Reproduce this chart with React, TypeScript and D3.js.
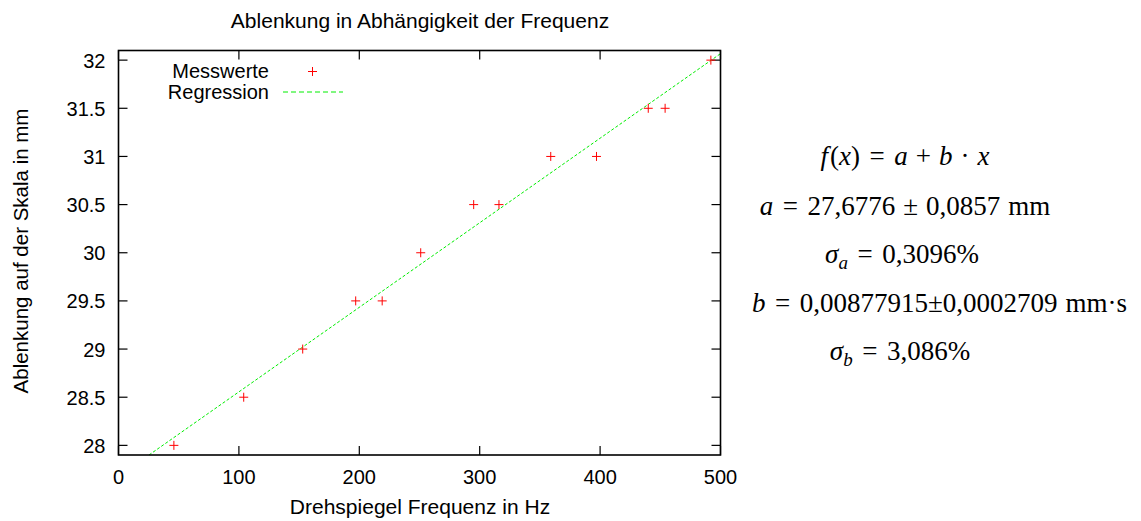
import React from 'react';
import * as d3 from 'd3';

// Messwerte: Drehspiegel-Frequenz (Hz) und Ablenkung (mm)
const frequency = [46, 104, 153, 197, 219, 251, 295, 316, 359, 397, 440, 454, 492];
const deflection = [28, 28.5, 29, 29.5, 29.5, 30, 30.5, 30.5, 31, 31, 31.5, 31.5, 32];

// Regressionskoeffizienten f(x) = a + b*x
const fitA = 27.6776;
const fitB = 0.00877915;

const xTicks = [0, 100, 200, 300, 400, 500];
const yTicks = [28, 28.5, 29, 29.5, 30, 30.5, 31, 31.5, 32];

const W = 1141;
const H = 521;
const m = { left: 118.5, right: 720.5, top: 50.5, bottom: 455 };

// TeX-like spacing around relations and binary operators
const REL = 9.5;
const BIN = 8;

type Piece = { t: string; it?: boolean; sub?: boolean; dx?: number };

function MathLine({ x, y, anchor, pieces }: { x: number; y: number; anchor: string; pieces: Piece[] }) {
  let shifted = false;
  return (
    <text x={x} y={y} textAnchor={anchor}>
      {pieces.map((p, i) => {
        let dy = 0;
        if (p.sub && !shifted) { dy = 5.5; shifted = true; }
        else if (!p.sub && shifted) { dy = -5.5; shifted = false; }
        return (
          <tspan key={i} dx={p.dx || 0} dy={dy} fontStyle={p.it ? 'italic' : 'normal'} fontSize={p.sub ? 19 : undefined}>
            {p.t}
          </tspan>
        );
      })}
    </text>
  );
}

export default function App() {
  const x = d3.scaleLinear().domain([0, 500]).range([m.left, m.right]);
  const y = d3.scaleLinear().domain([27.9, 32.1]).range([m.bottom, m.top]);

  // Fit line, clipped to the plot area
  const x0 = (27.9 - fitA) / fitB;
  const fitLine = d3.line<number>()
    .x(d => x(d))
    .y(d => y(fitA + fitB * d))([x0, 500]);

  const sans = 'Liberation Sans, Arial, sans-serif';
  const serif = 'Liberation Serif, Times New Roman, serif';
  const green = '#00ee00';

  return (
    <svg width={W} height={H} style={{ position: 'absolute', left: 0, top: 0, background: '#fff' }}>
      <text x={420} y={28} textAnchor="middle" fontFamily={sans} fontSize={21}>
        Ablenkung in Abhängigkeit der Frequenz
      </text>

      {/* ticks */}
      {xTicks.map(t => (
        <g key={'x' + t}>
          <line x1={x(t)} x2={x(t)} y1={m.bottom} y2={m.bottom - 9} stroke="#000" strokeWidth={1.2} />
          <line x1={x(t)} x2={x(t)} y1={m.top} y2={m.top + 9} stroke="#000" strokeWidth={1.2} />
          <text x={x(t)} y={484} textAnchor="middle" fontFamily={sans} fontSize={20}>{t}</text>
        </g>
      ))}
      {yTicks.map(t => (
        <g key={'y' + t}>
          <line x1={m.left} x2={m.left + 9} y1={y(t)} y2={y(t)} stroke="#000" strokeWidth={1.2} />
          <line x1={m.right} x2={m.right - 9} y1={y(t)} y2={y(t)} stroke="#000" strokeWidth={1.2} />
          <text x={105.5} y={y(t) + 7.5} textAnchor="end" fontFamily={sans} fontSize={20}>{String(t)}</text>
        </g>
      ))}

      {/* regression */}
      <path d={fitLine || ''} fill="none" stroke={green} strokeWidth={1} strokeDasharray="3,2" />

      {/* data */}
      {frequency.map((f, i) => (
        <g key={'p' + i} stroke="#ff0000" strokeWidth={1}>
          <line x1={x(f) - 4.5} x2={x(f) + 4.5} y1={y(deflection[i])} y2={y(deflection[i])} />
          <line x1={x(f)} x2={x(f)} y1={y(deflection[i]) - 4.5} y2={y(deflection[i]) + 4.5} />
        </g>
      ))}

      {/* frame */}
      <rect x={m.left} y={m.top} width={m.right - m.left} height={m.bottom - m.top} fill="none" stroke="#000" strokeWidth={1.6} />

      {/* legend */}
      <text x={269} y={77.5} textAnchor="end" fontFamily={sans} fontSize={20}>Messwerte</text>
      <g stroke="#ff0000" strokeWidth={1}>
        <line x1={308} x2={317} y1={71.5} y2={71.5} />
        <line x1={312.5} x2={312.5} y1={67} y2={76} />
      </g>
      <text x={269} y={98.5} textAnchor="end" fontFamily={sans} fontSize={20}>Regression</text>
      <line x1={283} x2={343} y1={92} y2={92} stroke={green} strokeWidth={1} strokeDasharray="5,3" />

      {/* axis labels */}
      <text x={420} y={514} textAnchor="middle" fontFamily={sans} fontSize={21}>Drehspiegel Frequenz in Hz</text>
      <text transform="translate(28,251) rotate(-90)" textAnchor="middle" fontFamily={sans} fontSize={20.5}>
        Ablenkung auf der Skala in mm
      </text>

      {/* fit results */}
      <g fontFamily={serif} fontSize={27}>
        <MathLine x={905} y={165} anchor="middle" pieces={[
          { t: 'f', it: true }, { t: '(', dx: 2 }, { t: 'x', it: true }, { t: ')' },
          { t: '=', dx: REL }, { t: 'a', it: true, dx: REL },
          { t: '+', dx: BIN }, { t: 'b', it: true, dx: BIN },
          { t: '·', dx: BIN }, { t: 'x', it: true, dx: BIN },
        ]} />
        <MathLine x={905} y={215} anchor="middle" pieces={[
          { t: 'a', it: true }, { t: '=', dx: REL }, { t: '27,6776', dx: REL },
          { t: '±', dx: BIN }, { t: '0,0857', dx: BIN }, { t: 'mm', dx: 8 },
        ]} />
        <MathLine x={902} y={263} anchor="middle" pieces={[
          { t: 'σ', it: true }, { t: 'a', it: true, sub: true },
          { t: '=', dx: REL }, { t: '0,3096%', dx: REL },
        ]} />
        <MathLine x={752} y={311.5} anchor="start" pieces={[
          { t: 'b', it: true }, { t: '=', dx: REL }, { t: '0,00877915±0,0002709', dx: REL },
          { t: 'mm·s', dx: 8 },
        ]} />
        <MathLine x={900} y={360} anchor="middle" pieces={[
          { t: 'σ', it: true }, { t: 'b', it: true, sub: true },
          { t: '=', dx: REL }, { t: '3,086%', dx: REL },
        ]} />
      </g>
    </svg>
  );
}
